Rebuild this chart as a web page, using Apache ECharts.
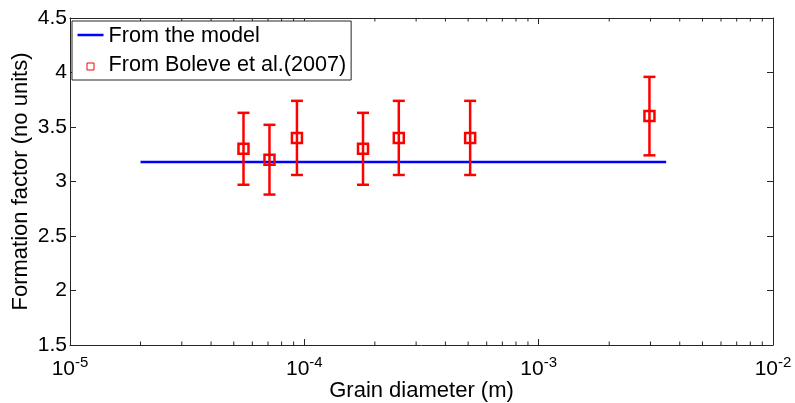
<!DOCTYPE html>
<html><head><meta charset="utf-8">
<script src="https://cdn.jsdelivr.net/npm/echarts@6/dist/echarts.min.js"></script>
<style>html,body{margin:0;padding:0;background:#fff}#c{width:795px;height:403px}</style>
</head><body><div id="c"></div>
<script>
// ---- data ----
const seriesNames = ['From the model', 'From Boleve et al.(2007)'];
const modelX = [2e-5, 3.5e-3];
const modelY = [3.18, 3.18];
const dataX = [5.5e-5, 7.1e-5, 9.3e-5, 1.78e-4, 2.53e-4, 5.1e-4, 2.97e-3];
const dataY = [3.3, 3.2, 3.4, 3.3, 3.4, 3.4, 3.6];
const dataErr = [0.33, 0.32, 0.34, 0.33, 0.34, 0.34, 0.36];
const xMinorTicks = [2e-5,3e-5,4e-5,5e-5,6e-5,7e-5,8e-5,9e-5,
                     2e-4,3e-4,4e-4,5e-4,6e-4,7e-4,8e-4,9e-4,
                     2e-3,3e-3,4e-3,5e-3,6e-3,7e-3,8e-3,9e-3];
const xMin = 1e-5, xMax = 1e-2;
const yMin = 1.5, yMax = 4.5, yStep = 0.5;
const xTitle = 'Grain diameter (m)';
const yTitle = 'Formation factor (no units)';

// ---- chart ----
const FONT = 'Liberation Sans, Arial, sans-serif';
const AX = '#262626';
const chart = echarts.init(document.getElementById('c'));
const axisCommonX = {
  type: 'log', logBase: 10, min: xMin, max: xMax,
  axisLine: {show: true, onZero: false, lineStyle: {color: AX, width: 1}},
  axisTick: {show: true, inside: true, length: 6, lineStyle: {color: AX}},
  splitLine: {show: false}, minorTick: {show: false}
};
const axisCommonY = {
  type: 'value', min: yMin, max: yMax, interval: yStep,
  axisLine: {show: true, onZero: false, lineStyle: {color: AX, width: 1}},
  axisTick: {show: true, inside: true, length: 6, lineStyle: {color: AX}},
  splitLine: {show: false}
};
function minorRender(params, api) {
  const b = api.coord([api.value(0), yMin]);
  const t = api.coord([api.value(0), yMax]);
  return {type: 'group', children: [
    {type: 'line', shape: {x1: b[0], y1: b[1], x2: b[0], y2: b[1] - 3.5}, style: {stroke: AX, lineWidth: 1}},
    {type: 'line', shape: {x1: t[0], y1: t[1], x2: t[0], y2: t[1] + 3.5}, style: {stroke: AX, lineWidth: 1}}
  ]};
}
function errRender(params, api) {
  const x = api.value(0);
  const lo = api.coord([x, api.value(1)]);
  const hi = api.coord([x, api.value(2)]);
  const st = {stroke: '#FF0000', lineWidth: 2.5};
  const w = 6;
  return {type: 'group', children: [
    {type: 'line', shape: {x1: lo[0], y1: lo[1], x2: hi[0], y2: hi[1]}, style: st},
    {type: 'line', shape: {x1: lo[0] - w, y1: lo[1], x2: lo[0] + w, y2: lo[1]}, style: st},
    {type: 'line', shape: {x1: hi[0] - w, y1: hi[1], x2: hi[0] + w, y2: hi[1]}, style: st}
  ]};
}
chart.setOption({
  animation: false,
  backgroundColor: '#fff',
  grid: {left: 70, right: 22, top: 18, bottom: 58, containLabel: false, outerBoundsMode: 'none'},
  legend: {
    left: 72, top: 21, orient: 'vertical', selectedMode: false,
    itemWidth: 26, itemHeight: 14, itemGap: 7,
    padding: [4, 5, 4, 5],
    borderColor: AX, borderWidth: 1, backgroundColor: '#fff',
    textStyle: {fontSize: 21.6, fontFamily: FONT, color: '#000'},
    data: [
      {name: seriesNames[0], icon: 'path://M0,0M26,14M0,4.75h26v2.5h-26z',
       itemStyle: {color: '#0000FF', borderWidth: 0}},
      {name: seriesNames[1], icon: 'path://M0,0M26,14M9.5,5h7v7h-7z',
       itemStyle: {color: 'rgba(0,0,0,0)', borderColor: '#FF0000', borderWidth: 1}}
    ]
  },
  xAxis: [
    Object.assign({}, axisCommonX, {
      position: 'bottom',
      name: xTitle, nameLocation: 'middle', nameGap: 35, nameMoveOverlap: false,
      nameTextStyle: {fontSize: 22, fontFamily: FONT, color: '#000'},
      axisLabel: {
        margin: 10,
        formatter: v => '{b|10}{s|' + Math.round(Math.log10(v)) + '}',
        rich: {
          b: {fontSize: 21, fontFamily: FONT, color: '#000'},
          s: {fontSize: 15, fontFamily: FONT, color: '#000', padding: [0, 0, 14, 0]}
        }
      }
    }),
    Object.assign({}, axisCommonX, {position: 'top', axisLabel: {show: false}})
  ],
  yAxis: [
    Object.assign({}, axisCommonY, {
      position: 'left',
      name: yTitle, nameLocation: 'middle', nameGap: 38, nameMoveOverlap: false,
      nameTextStyle: {fontSize: 22, fontFamily: FONT, color: '#000'},
      axisLabel: {fontSize: 21, fontFamily: FONT, color: '#000', margin: 3}
    }),
    Object.assign({}, axisCommonY, {position: 'right', axisLabel: {show: false}})
  ],
  series: [
    {type: 'custom', name: 'minor', xAxisIndex: 0, yAxisIndex: 0, silent: true, clip: false,
     data: xMinorTicks.map(v => [v, yMin]), renderItem: minorRender, z: 1},
    {type: 'line', name: seriesNames[0], xAxisIndex: 0, yAxisIndex: 0,
     data: modelX.map((x, i) => [x, modelY[i]]), symbol: 'none',
     lineStyle: {color: '#0000FF', width: 2.5}, itemStyle: {color: '#0000FF'}, z: 2},
    {type: 'custom', name: 'errbars', xAxisIndex: 0, yAxisIndex: 0, silent: true,
     data: dataX.map((x, i) => [x, dataY[i] - dataErr[i], dataY[i] + dataErr[i]]),
     encode: {x: 0, y: [1, 2]}, renderItem: errRender, z: 3},
    {type: 'scatter', name: seriesNames[1], xAxisIndex: 0, yAxisIndex: 0,
     data: dataX.map((x, i) => [x, dataY[i]]), symbol: 'rect', symbolSize: 10,
     itemStyle: {color: 'rgba(0,0,0,0)', borderColor: '#FF0000', borderWidth: 2.5, opacity: 1}, z: 4}
  ]
});
</script></body></html>
